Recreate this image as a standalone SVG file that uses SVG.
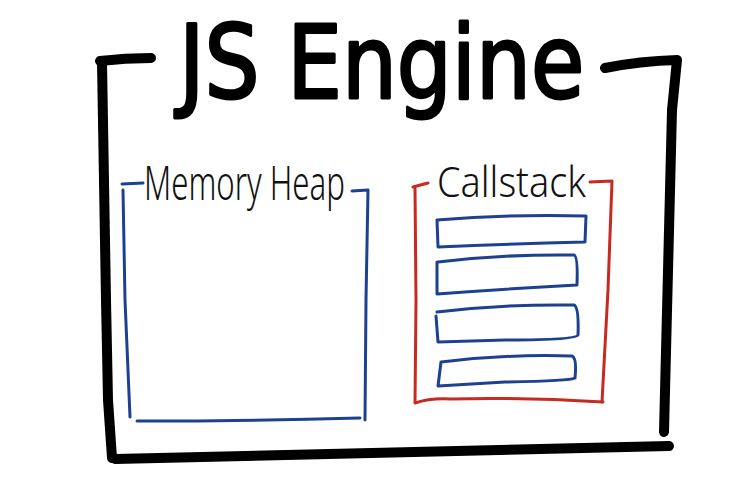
<svg xmlns="http://www.w3.org/2000/svg" width="750" height="499" viewBox="0 0 750 499">
<style>
.frame{fill:none;stroke:#000;stroke-width:10;stroke-linecap:round;stroke-linejoin:round}
.blue{fill:none;stroke:#1c4190;stroke-width:3;stroke-linecap:round;stroke-linejoin:round}
.red{fill:none;stroke:#c62a20;stroke-width:3;stroke-linecap:round;stroke-linejoin:round}
.title{font-family:"DejaVu Sans","Liberation Sans",sans-serif;font-size:102px;fill:#000;stroke:#000;stroke-width:3;stroke-linejoin:round}
.label{font-family:"Noto Sans","DejaVu Sans",sans-serif;font-weight:300;fill:#111}
</style>
<rect width="750" height="499" fill="#fff"/>
<g id="js-engine">
<path class="frame" d="M100,61 Q125,58 151,58"/>
<path class="frame" d="M102,62 L106,300 L108,400 L112,458"/>
<path class="frame" d="M115,459 Q400,452 669,446"/>
<path class="frame" d="M605,68 Q640,61 677,60 L672,110 L664,432"/>
<text class="title" transform="translate(179,98) scale(0.85,1)">JS Engine</text>
</g>
<g id="memory-heap">
<path class="blue" d="M122,184 L143,183"/>
<path class="blue" d="M123,190 L125,300 L130,417"/>
<path class="blue" d="M137,421 Q250,421 360,418"/>
<path class="blue" d="M352,191 L368,190 L366,300 L365,420"/>
<text class="label" transform="translate(144,200) scale(0.65,1)" font-size="48">Memory Heap</text>
</g>
<g id="callstack">
<path class="red" d="M413,187 L428,183"/>
<path class="red" d="M415,188 L416,300 L415,403 Q430,398 450,399 Q520,397 603,402"/>
<path class="red" d="M590,182 L612,181 L608,290 L602,402"/>
<text class="label" transform="translate(437,197) scale(0.9,1)" font-size="42">Callstack</text>
<path id="frame-1" class="blue" d="M437,220 Q510,214 586,216 L585,242 Q510,244 438,247 Z"/>
<path id="frame-2" class="blue" d="M438,262 Q505,254 574,255 Q578,256 577,285 Q505,289 437,294 L437,262"/>
<path id="frame-3" class="blue" d="M437,312 Q505,304 574,305 Q579,307 578,335 Q576,340 505,340 L438,342 L436,316"/>
<path id="frame-4" class="blue" d="M441,362 Q505,354 572,356 Q577,358 575,378 Q570,381 505,382 L438,386 L441,362"/>
</g>
</svg>
